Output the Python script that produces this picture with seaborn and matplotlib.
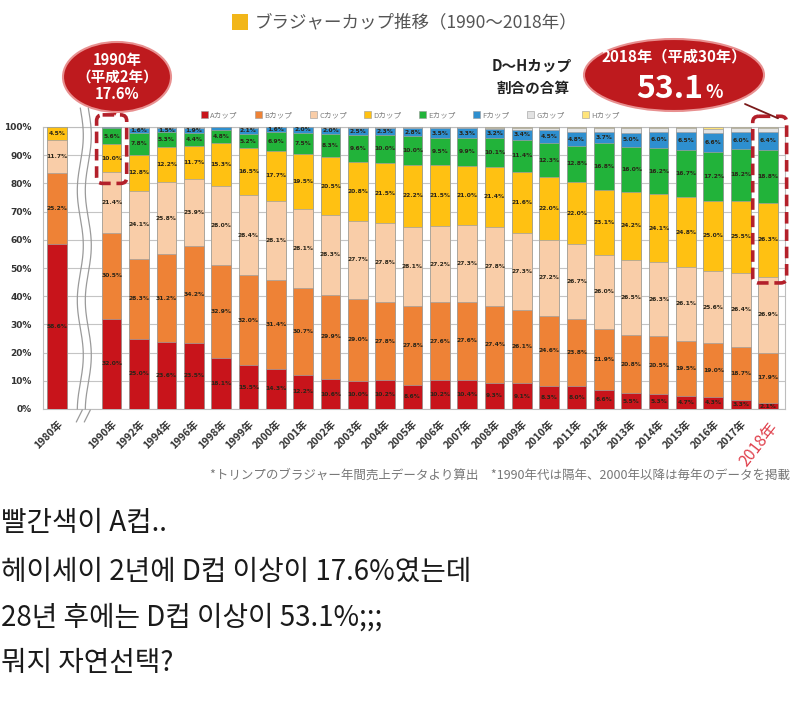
import numpy as np
import pandas as pd
import matplotlib
matplotlib.use("Agg")
import matplotlib.pyplot as plt
import seaborn as sns
from matplotlib.patches import Ellipse, FancyBboxPatch, Polygon, Patch, Rectangle

# ---------------- data ----------------
years = ["1980年", "1990年", "1992年", "1994年", "1996年", "1998年", "1999年",
         "2000年", "2001年", "2002年", "2003年", "2004年", "2005年", "2006年",
         "2007年", "2008年", "2009年", "2010年", "2011年", "2012年", "2013年",
         "2014年", "2015年", "2016年", "2017年", "2018年"]
cups = ["Aカップ", "Bカップ", "Cカップ", "Dカップ", "Eカップ", "Fカップ", "Gカップ", "Hカップ"]

cup_a = [58.6, 32.0, 25.0, 23.6, 23.5, 18.1, 15.5, 14.3, 12.2, 10.6, 10.0, 10.2, 8.6,
         10.2, 10.4, 9.3, 9.1, 8.3, 8.0, 6.6, 5.5, 5.3, 4.7, 4.3, 3.3, 2.1]
cup_b = [25.2, 30.5, 28.3, 31.2, 34.2, 32.9, 32.0, 31.4, 30.7, 29.9, 29.0, 27.8, 27.8,
         27.6, 27.6, 27.4, 26.1, 24.6, 23.8, 21.9, 20.8, 20.5, 19.5, 19.0, 18.7, 17.9]
cup_c = [11.7, 21.4, 24.1, 25.8, 23.9, 28.0, 28.4, 28.1, 28.1, 28.3, 27.7, 27.8, 28.1,
         27.2, 27.3, 27.8, 27.3, 27.2, 26.7, 26.0, 26.5, 26.3, 26.1, 25.6, 26.4, 26.9]
cup_d = [4.5, 10.0, 12.8, 12.2, 11.7, 15.3, 16.5, 17.7, 19.5, 20.5, 20.8, 21.5, 22.2,
         21.5, 21.0, 21.4, 21.6, 22.0, 22.0, 23.1, 24.2, 24.1, 24.8, 25.0, 25.5, 26.3]
cup_e = [0.0, 5.6, 7.8, 5.3, 4.4, 4.8, 5.2, 6.9, 7.5, 8.3, 9.6, 10.0, 10.0,
         9.5, 9.9, 10.1, 11.4, 12.3, 12.8, 16.8, 16.0, 16.2, 16.7, 17.2, 18.2, 18.8]
cup_f = [0.0, 0.5, 1.6, 1.5, 1.9, 0.9, 2.1, 1.6, 2.0, 2.0, 2.5, 2.3, 2.8,
         3.5, 3.3, 3.2, 3.4, 4.5, 4.8, 3.7, 5.0, 6.0, 6.5, 6.6, 6.0, 6.4]
cup_g = [0.0, 0.0, 0.4, 0.4, 0.4, 0.0, 0.3, 0.0, 0.0, 0.4, 0.4, 0.4, 0.5,
         0.5, 0.5, 0.6, 0.8, 0.8, 1.4, 1.4, 1.5, 1.2, 1.3, 1.7, 1.4, 1.2]
cup_h = [0.0, 0.0, 0.0, 0.0, 0.0, 0.0, 0.0, 0.0, 0.0, 0.0, 0.0, 0.0, 0.0,
         0.0, 0.0, 0.2, 0.3, 0.3, 0.5, 0.5, 0.5, 0.4, 0.4, 0.6, 0.5, 0.4]

yticks = [0, 10, 20, 30, 40, 50, 60, 70, 80, 90, 100]

title_text = "ブラジャーカップ推移（1990〜2018年）"
callout_left = ["1990年", "（平成2年）", "17.6%"]
callout_right_top = "2018年（平成30年）"
callout_right_val = "53.1"
dh_note = ["D〜Hカップ", "割合の合算"]
footnote = "*トリンプのブラジャー年間売上データより算出　*1990年代は隔年、2000年以降は毎年のデータを掲載"
korean_lines = ["빨간색이 A컵..",
                "헤이세이 2년에 D컵 이상이 17.6%였는데",
                "28년 후에는 D컵 이상이 53.1%;;;",
                "뭐지 자연선택?"]

colors = ["#C8141B", "#EE8236", "#F9CDA8", "#FFC112", "#22B33A", "#2E8FCF", "#E2E2E2", "#FFE47A"]

# ---------------- setup ----------------
sns.set_theme(style="white")
plt.rcParams['font.family'] = ['Noto Sans CJK JP', 'DejaVu Sans']

W, H = 800, 703
fig = plt.figure(figsize=(W / 100, H / 100), dpi=100)
fig.patch.set_facecolor("white")


def fr(x0, y0, x1, y1):
    return [x0 / W, 1 - y1 / H, (x1 - x0) / W, (y1 - y0) / H]


ax = fig.add_axes(fr(43, 127, 785, 409))

df = pd.DataFrame({"year": years})
cols = []
for name, vals in zip(cups, [cup_a, cup_b, cup_c, cup_d, cup_e, cup_f, cup_g, cup_h]):
    df[name] = vals
    cols.append(name)
cum = df[cols].cumsum(axis=1)

order = [years[0], " "] + years[1:]

for k in reversed(range(len(cols))):
    sns.barplot(x=df["year"], y=cum[cols[k]], order=order, color=colors[k],
                saturation=1, width=0.72, edgecolor="#a0a0a0", linewidth=0.5,
                errorbar=None, ax=ax, zorder=3)

# segment value labels
for i, yr in enumerate(years):
    xp = order.index(yr)
    for k in range(6):
        v = df[cols[k]].iloc[i]
        if v <= 0 or (k == 5 and v < 1.0):
            continue
        ax.text(xp, cum[cols[k]].iloc[i] - v / 2, f"{v:.1f}%", ha="center", va="center",
                fontsize=4.3, fontweight="bold", color="#2a2418", family="DejaVu Sans",
                zorder=6)

ax.set_xlim(-0.51, 26.62)
ax.set_ylim(0, 100)
ax.set_yticks(yticks)
ax.set_yticklabels([f"{v}%" for v in yticks])
ax.yaxis.grid(True, color="#c4c4c4", lw=0.8)
ax.xaxis.grid(False)
ax.set_axisbelow(True)
ax.tick_params(axis="y", length=0, labelsize=6.5, pad=8, labelcolor="#333333")
for t in ax.get_yticklabels():
    t.set_fontweight("bold")
    t.set_family("DejaVu Sans")

ax.set_xticks(range(len(order)))
ax.set_xticklabels(["" if o == " " else o for o in order], rotation=45, ha="right",
                   rotation_mode="anchor", fontsize=7.5, color="#333333", fontweight="bold")
ax.tick_params(axis="x", length=0, pad=7)
last = ax.get_xticklabels()[-1]
last.set_color("#E0404C")
last.set_fontsize(11.5)
last.set_fontweight("normal")
last.set_rotation(52)
ax.set_xlabel("")
ax.set_ylabel("")
for s in ax.spines.values():
    s.set_visible(True)
    s.set_color("#bdbdbd")
    s.set_linewidth(0.8)

# legend
handles = [Patch(facecolor=c, edgecolor="#999999", lw=0.4) for c in colors]
fig.legend(handles, cups, ncol=8, loc="center", bbox_to_anchor=(0.513, 1 - 115 / H),
           frameon=False, fontsize=5.5, handlelength=0.9, handleheight=0.9,
           handletextpad=0.3, columnspacing=2.3, labelcolor="#808080")

# ---------------- overlay annotations (pixel coords) ----------------
ov = fig.add_axes([0, 0, 1, 1])
ov.set_xlim(0, W)
ov.set_ylim(H, 0)
ov.axis("off")
ov.patch.set_alpha(0)
ov.set_zorder(10)


def to_px(x, y):
    d = ax.transData.transform((x, y))
    return d[0], H - d[1]


# title
ov.add_patch(Rectangle((232, 14), 16, 16, facecolor="#F2B619", edgecolor="none"))
ov.text(255, 22, title_text, fontsize=12.6, color="#555555", va="center", ha="left")

# axis break (wavy double lines + slashes)
yy = np.linspace(108, 409, 200)
xc = to_px(1, 0)[0]
for off in (-4, 4):
    ov.plot(xc + off + 3 * np.sin((yy - 108) / 110 * 2 * np.pi), yy, color="#9a9a9a", lw=0.9)
    ov.plot([xc + off - 4, xc + off + 2], [422, 410], color="#9a9a9a", lw=0.9)

# dashed boxes
def dashed_box(x0, y0, x1, y1):
    ov.add_patch(FancyBboxPatch((x0, y0), x1 - x0, y1 - y0,
                                boxstyle="round,pad=0,rounding_size=6",
                                fill=False, edgecolor="#B3202A", lw=2.6,
                                linestyle=(0, (3.2, 1.6))))


bx0, by1 = to_px(2 - 0.55, 80.0)
bx1, by0 = to_px(2 + 0.55, 104.3)
dashed_box(bx0, by0, bx1, by1)
cx0, cy1 = to_px(26 - 0.56, 44.7)
cx1, cy0 = to_px(26 + 0.68, 103.8)
dashed_box(cx0, cy0, cx1, cy1)

# left callout
ov.add_patch(Polygon([(106, 100), (124, 100), (115, by0 + 1)], closed=True,
                     facecolor="#BE1A1E", edgecolor="none"))
ov.add_patch(Ellipse((117, 77), 108, 70, facecolor="#BE1A1E", edgecolor="#E89090", lw=1.5))
for txt, y in zip(callout_left, [60, 77, 94]):
    ov.text(117, y, txt, color="white", fontsize=10.5, fontweight="bold",
            ha="center", va="center")

# right callout
ov.plot([745, 778], [104, cy0 + 2], color="#7a1a1a", lw=1.3)
ov.add_patch(Ellipse((674, 75), 180, 72, facecolor="#BE1A1E", edgecolor="#E89090", lw=1.5))
ov.text(674, 56, callout_right_top, color="white", fontsize=11, fontweight="bold",
        ha="center", va="center")
ov.text(703, 98, callout_right_val, color="white", fontsize=23, fontweight="bold",
        ha="right", va="baseline")
ov.text(705, 98, "%", color="white", fontsize=13, fontweight="bold",
        ha="left", va="baseline")

# D~H note
ov.text(532, 66, dh_note[0], fontsize=10.5, fontweight="bold", color="#222222",
        ha="center", va="center")
ov.text(533, 88, dh_note[1], fontsize=10.5, fontweight="bold", color="#222222",
        ha="center", va="center")

# footnote
ov.text(790, 475, footnote, fontsize=9, color="#777777", ha="right", va="center")

# korean text
for txt, y in zip(korean_lines, [523, 572, 618, 663]):
    ov.text(1, y, txt, fontsize=20, color="#1a1a1a", ha="left", va="center",
            family=["Noto Sans CJK KR", "DejaVu Sans"])

fig.savefig("out.png", dpi=100, facecolor="white")
